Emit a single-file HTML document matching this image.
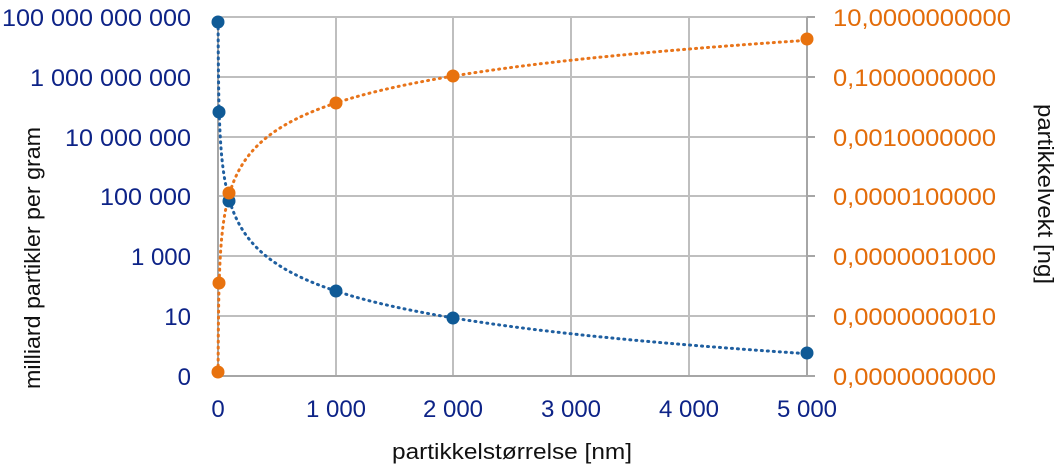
<!DOCTYPE html>
<html><head><meta charset="utf-8"><style>
html,body{margin:0;padding:0;background:#fff;}
svg{display:block;font-family:"Liberation Sans",sans-serif;}
</style></head><body>
<svg id="s" width="1063" height="471" viewBox="0 0 1063 471" xmlns="http://www.w3.org/2000/svg">
<g stroke="#bfbfbf" stroke-width="2">
<line x1="218" y1="17" x2="807" y2="17"/><line x1="218" y1="77" x2="807" y2="77"/>
<line x1="218" y1="137" x2="807" y2="137"/><line x1="218" y1="196" x2="807" y2="196"/>
<line x1="218" y1="256" x2="807" y2="256"/><line x1="218" y1="316" x2="807" y2="316"/>
<line x1="336" y1="17" x2="336" y2="376"/><line x1="453" y1="17" x2="453" y2="376"/>
<line x1="571" y1="17" x2="571" y2="376"/><line x1="689" y1="17" x2="689" y2="376"/>
</g>
<g stroke="#a6a6a6" stroke-width="2">
<line x1="218" y1="376" x2="807" y2="376"/><line x1="218" y1="17" x2="218" y2="376"/>
<line x1="807" y1="17" x2="807" y2="376"/>
<line x1="807" y1="17" x2="815" y2="17"/><line x1="807" y1="77" x2="815" y2="77"/>
<line x1="807" y1="137" x2="815" y2="137"/><line x1="807" y1="196" x2="815" y2="196"/>
<line x1="807" y1="256" x2="815" y2="256"/><line x1="807" y1="316" x2="815" y2="316"/>
<line x1="807" y1="376" x2="815" y2="376"/>
</g>
<path id="pb" fill="none" stroke="#1f5fa0" stroke-width="3" stroke-dasharray="1 5" stroke-linecap="round"/>
<path id="po" fill="none" stroke="#e8741a" stroke-width="3" stroke-dasharray="1 5" stroke-linecap="round"/>
<g fill="#0f5a96">
<circle cx="218" cy="22" r="6.5"/><circle cx="219" cy="112" r="6.5"/><circle cx="229" cy="201" r="6.5"/>
<circle cx="336" cy="291" r="6.5"/><circle cx="453" cy="318" r="6.5"/><circle cx="807" cy="353" r="6.5"/>
</g>
<g fill="#e8720e">
<circle cx="218" cy="372" r="6.5"/><circle cx="219" cy="283" r="6.5"/><circle cx="229" cy="193" r="6.5"/>
<circle cx="336" cy="103" r="6.5"/><circle cx="453" cy="76" r="6.5"/><circle cx="807" cy="39" r="6.5"/>
</g>
<g fill="#0d2387" font-size="24" text-anchor="end">
<text x="191" y="26" textLength="189" lengthAdjust="spacingAndGlyphs">100 000 000 000</text>
<text x="191" y="86" textLength="161" lengthAdjust="spacingAndGlyphs">1 000 000 000</text>
<text x="191" y="146" textLength="126" lengthAdjust="spacingAndGlyphs">10 000 000</text>
<text x="191" y="205" textLength="91" lengthAdjust="spacingAndGlyphs">100 000</text>
<text x="191" y="265">1 000</text>
<text x="191" y="325">10</text>
<text x="191" y="385">0</text>
</g>
<g fill="#e36c09" font-size="24">
<text x="833" y="26" textLength="178" lengthAdjust="spacingAndGlyphs">10,0000000000</text>
<text x="833" y="86" textLength="163" lengthAdjust="spacingAndGlyphs">0,1000000000</text>
<text x="833" y="146" textLength="163" lengthAdjust="spacingAndGlyphs">0,0010000000</text>
<text x="833" y="205" textLength="163" lengthAdjust="spacingAndGlyphs">0,0000100000</text>
<text x="833" y="265" textLength="163" lengthAdjust="spacingAndGlyphs">0,0000001000</text>
<text x="833" y="325" textLength="163" lengthAdjust="spacingAndGlyphs">0,0000000010</text>
<text x="833" y="385" textLength="163" lengthAdjust="spacingAndGlyphs">0,0000000000</text>
</g>
<g fill="#0d2387" font-size="24" text-anchor="middle">
<text x="218" y="417">0</text><text x="336" y="417">1 000</text><text x="453" y="417">2 000</text>
<text x="571" y="417">3 000</text><text x="689" y="417">4 000</text><text x="807" y="417">5 000</text>
</g>
<g fill="#111" font-size="22" text-anchor="middle">
<text x="512" y="459" textLength="240" lengthAdjust="spacingAndGlyphs">partikkelstørrelse [nm]</text>
<text transform="translate(40,258) rotate(-90)" textLength="262" lengthAdjust="spacingAndGlyphs">milliard partikler per gram</text>
<text transform="translate(1038,194) rotate(90)" textLength="180" lengthAdjust="spacingAndGlyphs">partikkelvekt [ng]</text>
</g>
<script>
(function(){
var b="",o="";
for(var i=0;i<=400;i++){
 var lx=i/400*Math.log10(5000);var x=Math.pow(10,lx);
 var px=218+x*0.1178;
 var yb=291+89.7*Math.log10(x/1000);var yo=103-89.7*Math.log10(x/1000);
 b+=(i?"L":"M")+px.toFixed(2)+" "+yb.toFixed(2);
 o+=(i?"L":"M")+px.toFixed(2)+" "+yo.toFixed(2);
}
document.getElementById("pb").setAttribute("d",b);
document.getElementById("po").setAttribute("d",o);
})();
</script>
</svg>
</body></html>
